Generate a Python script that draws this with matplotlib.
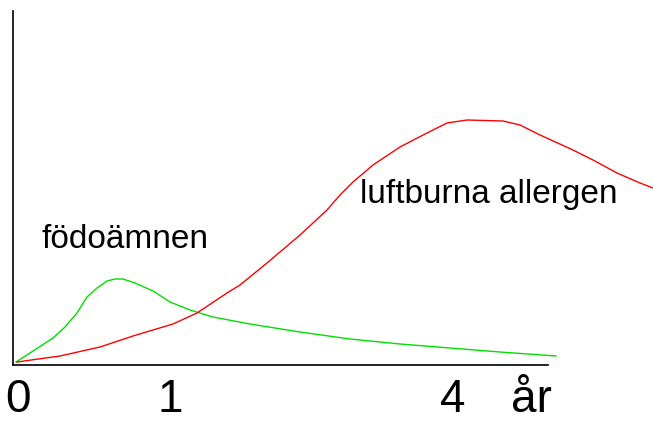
import matplotlib
matplotlib.use("Agg")
import matplotlib.pyplot as plt

# curves (x: px from y-axis, y: px above x-axis)
food_x = [3, 17, 40, 52, 64, 74, 84, 94, 102, 110, 122, 140, 157, 177, 200,
          237, 287, 337, 387, 437, 487, 543]
food_y = [3, 12, 27, 38, 52, 68, 77, 84, 86, 86, 82, 74, 63, 55, 48,
          41, 33, 26, 21, 17, 13, 9]

air_x = [4, 47, 87, 120, 160, 184, 214, 227, 254, 287, 314, 327, 340, 360,
         387, 414, 434, 454, 490, 507, 527, 560, 580, 604, 627, 640]
air_y = [3, 9, 18, 29, 41, 52, 72, 80, 102, 130, 155, 170, 183, 200,
         218, 232, 242, 245, 244, 240, 230, 215, 205, 192, 182, 177]

tick_pos = [5, 157, 440, 518]
tick_labels = ["0", "1", "4", "år"]

W, H = 653, 423
fig = plt.figure(figsize=(W / 100, H / 100), dpi=100)
ax = fig.add_axes([13 / W, 58 / H, 535 / W, 354 / H])
ax.set_xlim(0, 535)
ax.set_ylim(0, 354)

ax.plot(food_x, food_y, color="#00e000", lw=1.0, clip_on=False)
ax.plot(air_x, air_y, color="#ff0000", lw=1.0, clip_on=False)

ax.text(29, 117, "födoämnen", fontsize=24, family="Liberation Sans",
        va="baseline", ha="left")
ax.text(347, 162, "luftburna allergen", fontsize=24, family="Liberation Sans",
        va="baseline", ha="left")

for s in ["top", "right"]:
    ax.spines[s].set_visible(False)
for s in ["left", "bottom"]:
    ax.spines[s].set_linewidth(1.2)
    ax.spines[s].set_color("black")

ax.set_yticks([])
ax.set_xticks(tick_pos)
ax.set_xticklabels(tick_labels, fontsize=33, family="Liberation Sans")
ax.tick_params(axis="x", length=0, pad=9.4)

fig.savefig("out.png", dpi=100)
